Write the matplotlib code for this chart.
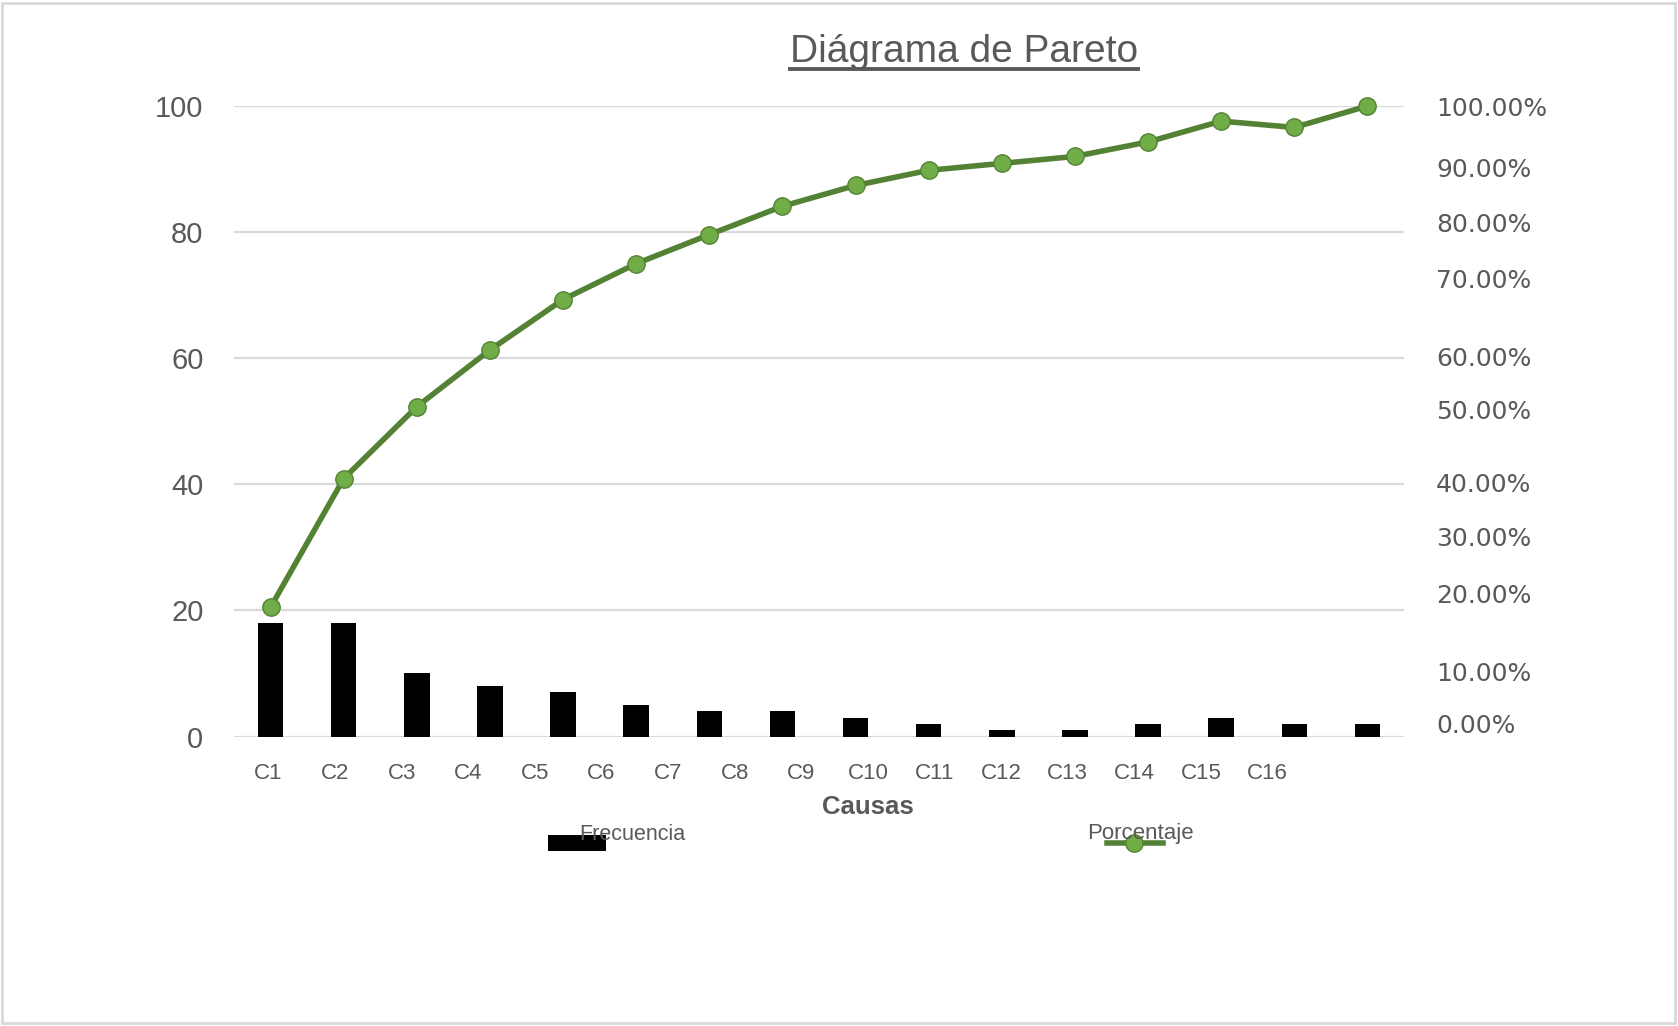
import numpy as np
import matplotlib
matplotlib.use("Agg")
import matplotlib.pyplot as plt
from matplotlib.patches import Rectangle
from matplotlib.lines import Line2D

# ---- data ----
causas = ["C1", "C2", "C3", "C4", "C5", "C6", "C7", "C8",
          "C9", "C10", "C11", "C12", "C13", "C14", "C15", "C16"]
frecuencia = [18, 18, 10, 8, 7, 5, 4, 4, 3, 2, 1, 1, 2, 3, 2, 2]
porcentaje = [20.5, 40.9, 52.3, 61.3, 69.3, 75.0, 79.6, 84.1,
              87.4, 89.8, 90.9, 92.0, 94.3, 97.6, 96.6, 100.0]
left_ticks = [0, 20, 40, 60, 80, 100]
pct_values = [100, 90, 80, 70, 60, 50, 40, 30, 20, 10, 0]
pct_label_pos = [100.3, 90.5, 81.7, 72.8, 60.5, 52.0, 40.4, 31.8, 22.7, 10.3, 2.1]

# ---- style ----
W, H, DPI = 1678, 1026, 100
GRAY = "#595959"
GRID = "#d9d9d9"
LINE_GREEN = "#548235"
MARK_GREEN = "#70ad47"
NARROW = ["Liberation Sans Narrow", "Liberation Sans", "DejaVu Sans"]

plt.rcParams["font.family"] = NARROW


def fx(x):
    return x / W


def fy(y):
    return 1 - y / H


fig = plt.figure(figsize=(W / DPI, H / DPI), dpi=DPI)
fig.patch.set_facecolor("white")

# outer frame of the chart area
fig.add_artist(Rectangle((fx(2), fy(1023)), fx(1675) - fx(2), fy(3) - fy(1023),
                         transform=fig.transFigure, fill=False,
                         edgecolor=GRID, linewidth=2))

ax_left, ax_right, ax_top, ax_bottom = 234, 1404, 106, 736.5
ax = fig.add_axes([fx(ax_left), fy(ax_bottom),
                   fx(ax_right) - fx(ax_left), fy(ax_top) - fy(ax_bottom)])

x = np.arange(len(causas))
ax.bar(x, frecuencia, width=0.35, color="black", zorder=2)
ax.set_xlim(-0.5, len(causas) - 0.5)
ax.set_ylim(0, 100)
ax.set_yticks(left_ticks)
ax.set_yticklabels([str(v) for v in left_ticks])
ax.grid(axis="y", color=GRID, linewidth=1.6, zorder=0)
ax.set_axisbelow(True)
for s in ax.spines.values():
    s.set_visible(False)
ax.tick_params(axis="y", length=0, pad=22, labelsize=21, labelcolor=GRAY)

# category labels sit on a slightly tighter spacing than the bars
label_step = 0.911
ax.set_xticks(np.arange(len(causas)) * label_step - 0.03)
ax.set_xticklabels(causas)
ax.tick_params(axis="x", length=0, pad=19, labelsize=16, labelcolor=GRAY)

# cumulative percentage line
ax.plot(x, porcentaje, color=LINE_GREEN, linewidth=4.0, zorder=4,
        marker="o", markersize=12.5, markerfacecolor=MARK_GREEN,
        markeredgecolor=LINE_GREEN, markeredgewidth=1.0, clip_on=False)

# secondary percentage scale
ax2 = ax.twinx()
ax2.set_ylim(0, 100)
ax2.set_yticks(pct_label_pos)
ax2.set_yticklabels([f"{v:.2f}%" for v in pct_values],
                    family="DejaVu Sans")
ax2.tick_params(axis="y", length=0, pad=23, labelsize=18, labelcolor=GRAY)
for s in ax2.spines.values():
    s.set_visible(False)

# title (underlined)
title = fig.text(fx(964), fy(52), "Diágrama de Pareto", ha="center",
                 va="center", fontsize=28, color=GRAY)

# axis title
fig.text(fx(868), fy(807), "Causas", ha="center", va="center",
         fontsize=18.5, fontweight="bold", color=GRAY)

# legend entries
fig.add_artist(Rectangle((fx(548), fy(851)), fx(606) - fx(548), fy(835) - fy(851),
                         transform=fig.transFigure, facecolor="black",
                         edgecolor="none"))
fig.text(fx(579), fy(834), "Frecuencia", ha="left", va="center",
         fontsize=15.5, color=GRAY)
fig.text(fx(1087), fy(834), "Porcentaje", ha="left", va="center",
         fontsize=16, color=GRAY)
fig.add_artist(Line2D([fx(1107), fx(1163)], [fy(843), fy(843)],
                      transform=fig.transFigure, color=LINE_GREEN,
                      linewidth=4.0))
fig.add_artist(Line2D([fx(1134)], [fy(843)], transform=fig.transFigure,
                      marker="o", markersize=12.5, markerfacecolor=MARK_GREEN,
                      markeredgecolor=LINE_GREEN, markeredgewidth=1.0,
                      linestyle="none"))

# underline under the title text
fig.canvas.draw()
bb = title.get_window_extent(renderer=fig.canvas.get_renderer())
uy = bb.y0 + 1
fig.add_artist(Line2D([bb.x0 / W, bb.x1 / W], [uy / H, uy / H],
                      transform=fig.transFigure, color=GRAY, linewidth=2.8))

fig.savefig("out.png", dpi=DPI, facecolor="white")
